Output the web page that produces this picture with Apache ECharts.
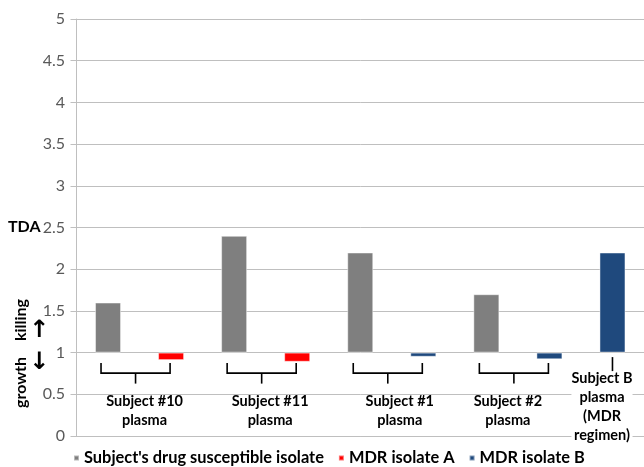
<!DOCTYPE html>
<html><head><meta charset="utf-8">
<script src="https://cdn.jsdelivr.net/npm/echarts@6/dist/echarts.min.js"></script>
<style>html,body{margin:0;padding:0;background:#fff}#c{width:644px;height:467px}</style>
</head><body><div id="c"></div>
<script>
// ---- data ----
const categories = ['S10 susceptible', 'S10 MDR A', 'S11 susceptible', 'S11 MDR A', 'S1 susceptible', 'S1 MDR B', 'S2 susceptible', 'S2 MDR B', 'SB MDR B'];
const susceptible = [1.6, null, 2.4, null, 2.2, null, 1.7, null, null];
const mdrA = [null, 0.91, null, 0.89, null, null, null, null, null];
const mdrB = [null, null, null, null, null, 0.95, null, 0.92, 2.2];
const seriesNames = ["Subject's drug susceptible isolate", 'MDR isolate A', 'MDR isolate B'];
const groupLabels = ['Subject #10\nplasma', 'Subject #11\nplasma', 'Subject #1\nplasma', 'Subject #2\nplasma', 'Subject B\nplasma\n(MDR\nregimen)'];
const groupFrom = [0, 2, 4, 6, 8];
const groupTo = [1, 3, 5, 7, 8];
const yMin = 0, yMax = 5, yInterval = 0.5;
const baseline = 1;

// ---- layout tweaks (not data) ----
const labelDx = [5, 4.5, 8, -10, -10.5];
const FONT = 'Lato';

const combined = categories.map((_, i) => [susceptible, mdrA, mdrB].map(a => a[i]).find(v => v != null));
const baseData = combined.map(v => Math.min(v, baseline));
const delta = arr => arr.map(v => v == null ? '-' : Math.abs(v - baseline));

const chart = echarts.init(document.getElementById('c'), null, {renderer: 'canvas'});
const barStyle = c => ({color: c, borderColor: 'rgba(255,255,255,0.45)', borderWidth: 1});

const annotData = groupLabels.map((l, i) => [groupFrom[i], groupTo[i], baseline, i]);

chart.setOption({
  animation: false,
  backgroundColor: '#fff',
  grid: {left: 76.5, right: -4, top: 19, bottom: 31, containLabel: false},
  xAxis: {
    type: 'category', data: categories,
    axisLabel: {show: false}, axisTick: {show: false},
    axisLine: {lineStyle: {color: '#bfbfbf', width: 1}}
  },
  yAxis: {
    type: 'value', min: yMin, max: yMax, interval: yInterval,
    axisLine: {show: true, lineStyle: {color: '#bfbfbf'}},
    axisTick: {show: true, length: 6, lineStyle: {color: '#bfbfbf'}},
    splitLine: {lineStyle: {color: '#bfbfbf'}},
    axisLabel: {color: '#595959', fontFamily: FONT, fontSize: 16, margin: 11.5}
  },
  legend: {
    data: seriesNames, left: 68, top: 444, itemWidth: 5, itemHeight: 5, icon: 'rect',
    itemGap: 14, selectedMode: false,
    textStyle: {fontFamily: FONT, fontWeight: 'bold', fontSize: 16.4, color: '#000', lineHeight: 18}
  },
  series: [
    {name: 'base', type: 'bar', stack: 't', data: baseData, barWidth: 26, silent: true,
     itemStyle: {color: 'transparent'}},
    {name: seriesNames[0], type: 'bar', stack: 't', data: delta(susceptible), barWidth: 26, itemStyle: barStyle('#7f7f7f')},
    {name: seriesNames[1], type: 'bar', stack: 't', data: delta(mdrA), barWidth: 26, itemStyle: barStyle('#ff0000')},
    {name: seriesNames[2], type: 'bar', stack: 't', data: delta(mdrB), barWidth: 26, itemStyle: barStyle('#1f497d')},
    {
      type: 'custom', silent: true, data: annotData, encode: {x: [0, 1], y: 2}, z: 5,
      renderItem: function (params, api) {
        const p1 = api.coord([api.value(0), api.value(2)]);
        const p2 = api.coord([api.value(1), api.value(2)]);
        const idx = api.value(3);
        const yb = p1[1];
        const ls = {stroke: '#000', lineWidth: 1.6, fill: null};
        const children = [];
        if (api.value(0) !== api.value(1)) {
          const xl = p1[0] - 7, xr = p2[0] - 1;
          const xm = (xl + xr) / 2;
          children.push({type: 'polyline', shape: {points: [[xl, yb + 10.5], [xl, yb + 20.5], [xr, yb + 20.5], [xr, yb + 10.5]]}, style: ls});
          children.push({type: 'line', shape: {x1: xm, y1: yb + 20.5, x2: xm, y2: yb + 31}, style: ls});
          children.push({type: 'text', style: {text: groupLabels[idx], x: (p1[0] + p2[0]) / 2 + labelDx[idx], y: yb + 39.5,
            align: 'center', verticalAlign: 'top', font: 'bold 14.5px ' + FONT, lineHeight: 19, fill: '#000'}});
        } else {
          children.push({type: 'text', style: {text: groupLabels[idx], x: p1[0] + labelDx[idx], y: yb + 16,
            align: 'center', verticalAlign: 'top', font: 'bold 14.5px ' + FONT, lineHeight: 19.2, fill: '#000',
            backgroundColor: '#fff'}});
          children.push({type: 'line', shape: {x1: p1[0], y1: yb + 4.5, x2: p1[0], y2: yb + 18.5}, style: ls});
        }
        return {type: 'group', children: children};
      }
    }
  ],
  graphic: [
    {type: 'text', x: 8, y: 227, style: {text: 'TDA', font: 'bold 16px ' + FONT, fill: '#000', verticalAlign: 'middle'}},
    {type: 'text', x: 21, y: 320, rotation: Math.PI / 2, style: {text: 'killing', font: 'bold 16px ' + FONT, fill: '#000', align: 'center', verticalAlign: 'middle'}},
    {type: 'text', x: 21, y: 382.5, rotation: Math.PI / 2, style: {text: 'growth', font: 'bold 16px ' + FONT, fill: '#000', align: 'center', verticalAlign: 'middle'}},
    {type: 'text', x: 39, y: 330.5, style: {text: '↑', font: 'bold 24px "DejaVu Sans"', fill: '#000', align: 'center', verticalAlign: 'middle'}},
    {type: 'text', x: 39, y: 362.5, style: {text: '↓', font: 'bold 24px "DejaVu Sans"', fill: '#000', align: 'center', verticalAlign: 'middle'}}
  ]
});
</script></body></html>
